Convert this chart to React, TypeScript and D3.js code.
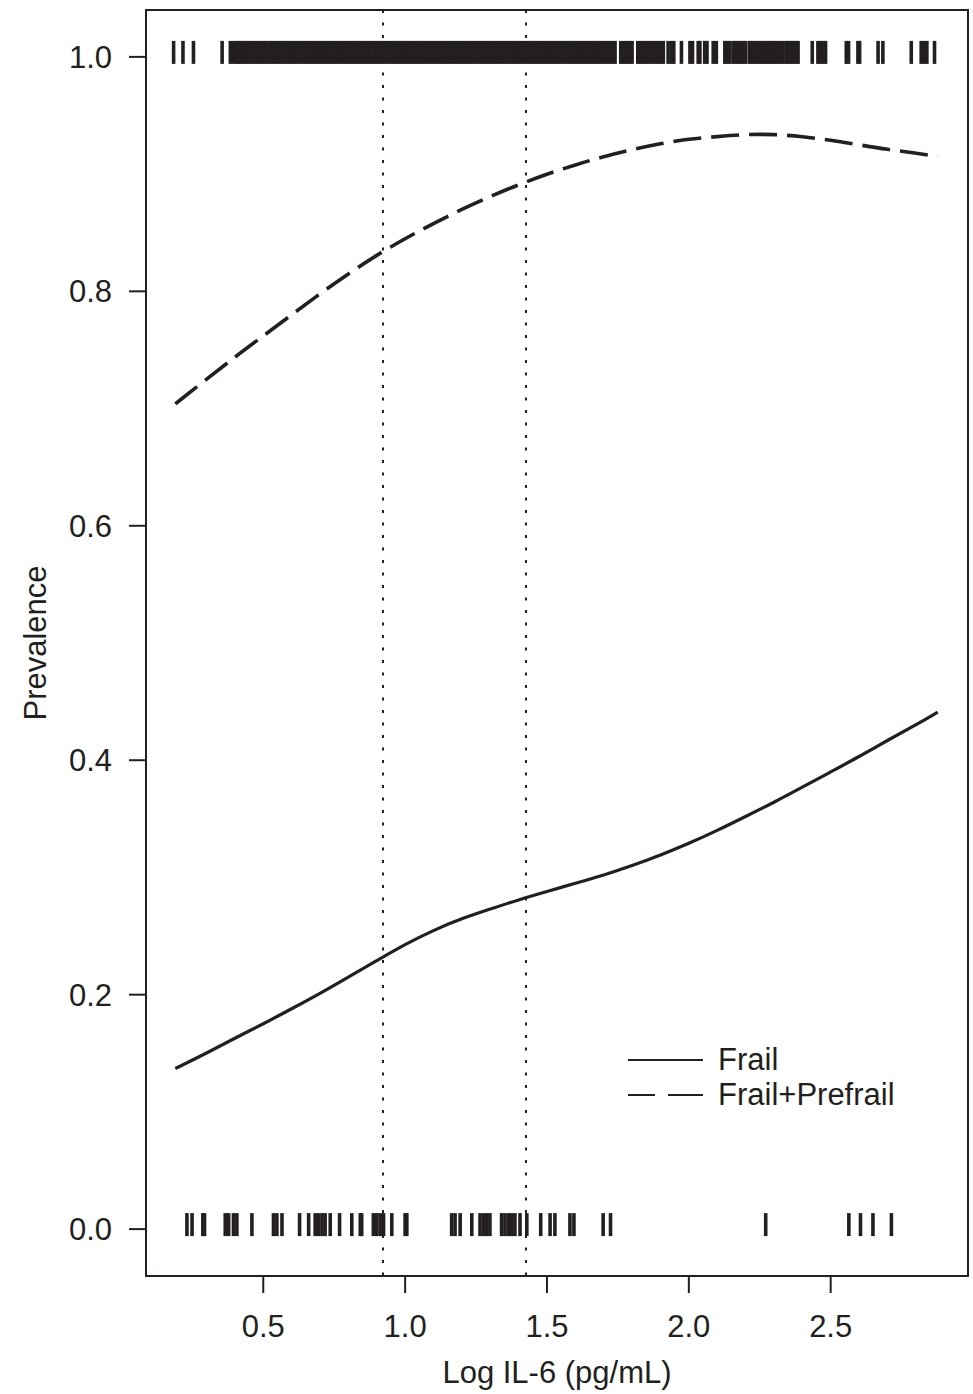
import * as d3 from "d3";

// figure size and plot box (R-style box with 4% padding on both axes)
const W = 973;
const H = 1394;
const box = { left: 146, right: 968, top: 10, bottom: 1276 };

const xTicks = [0.5, 1.0, 1.5, 2.0, 2.5];
const yTicks = [0.0, 0.2, 0.4, 0.6, 0.8, 1.0];
const cutPoints = [0.922, 1.426];

// fitted curves
const il6Grid = [0.19, 0.3, 0.4, 0.5, 0.6, 0.7, 0.8, 0.9, 1.0, 1.1, 1.2, 1.3, 1.4, 1.5,
  1.6, 1.7, 1.8, 1.9, 2.0, 2.1, 2.2, 2.3, 2.4, 2.5, 2.6, 2.7, 2.8, 2.877];
const frail = [0.137, 0.150, 0.163, 0.175, 0.188, 0.201, 0.215, 0.229, 0.243, 0.255,
  0.265, 0.273, 0.281, 0.288, 0.295, 0.302, 0.310, 0.319, 0.329, 0.340, 0.352, 0.364,
  0.377, 0.390, 0.403, 0.417, 0.430, 0.441];
const frailPrefrail = [0.704, 0.725, 0.744, 0.762, 0.780, 0.798, 0.815, 0.831, 0.845,
  0.858, 0.870, 0.881, 0.891, 0.900, 0.908, 0.915, 0.921, 0.926, 0.930, 0.932, 0.934,
  0.934, 0.932, 0.929, 0.925, 0.921, 0.918, 0.915];

// rug of observations at y = 1
const rugTop = [
  0.184, 0.217, 0.254, 0.355, 0.384, 0.395, 0.405, 0.413, 0.421,
  0.43, 0.44, 0.45, 0.46, 0.47, 0.48, 0.49, 0.50, 0.51, 0.52,
  0.53, 0.54, 0.55, 0.56, 0.57, 0.58, 0.59, 0.60, 0.61, 0.62,
  0.63, 0.64, 0.65, 0.66, 0.67, 0.68, 0.69, 0.70, 0.71, 0.72,
  0.73, 0.74, 0.75, 0.76, 0.77, 0.78, 0.79, 0.80, 0.81, 0.82,
  0.83, 0.84, 0.85, 0.86, 0.87, 0.88, 0.89, 0.90, 0.91, 0.92,
  0.93, 0.94, 0.95, 0.96, 0.97, 0.98, 0.99, 1.00, 1.01, 1.02,
  1.03, 1.04, 1.05, 1.06, 1.07, 1.08, 1.09, 1.10, 1.11, 1.12,
  1.13, 1.14, 1.15, 1.16, 1.17, 1.18, 1.19, 1.20, 1.21, 1.22,
  1.23, 1.24, 1.25, 1.26, 1.27, 1.28, 1.29, 1.30, 1.31, 1.32,
  1.33, 1.34, 1.35, 1.36, 1.37, 1.38, 1.39, 1.40, 1.41, 1.42,
  1.43, 1.44, 1.45, 1.46, 1.47, 1.48, 1.49, 1.50, 1.51, 1.52,
  1.53, 1.54, 1.55, 1.56, 1.57, 1.58, 1.59, 1.60, 1.61, 1.62,
  1.63, 1.64, 1.65, 1.66, 1.67, 1.68, 1.69, 1.70, 1.71, 1.72,
  1.73, 1.74, 1.76, 1.77, 1.78, 1.79, 1.80, 1.82, 1.83, 1.84,
  1.85, 1.86, 1.87, 1.88, 1.89, 1.90, 1.91,
  1.927, 1.939, 1.947, 1.974, 2.004, 2.013, 2.033, 2.039, 2.056, 2.064,
  2.086, 2.097, 2.127, 2.135, 2.144, 2.156, 2.165, 2.174, 2.182, 2.191,
  2.201, 2.215, 2.224, 2.232, 2.240, 2.250, 2.259, 2.268, 2.276, 2.285,
  2.295, 2.303, 2.311, 2.320, 2.330, 2.342, 2.350, 2.358, 2.368, 2.377,
  2.385, 2.435, 2.455, 2.464, 2.473, 2.482, 2.555, 2.563, 2.596, 2.602,
  2.667, 2.684, 2.784, 2.819, 2.831, 2.839, 2.866,
];

// rug of observations at y = 0
const rugBottom = [
  0.231, 0.249, 0.287, 0.293, 0.366, 0.378, 0.395, 0.407, 0.460, 0.536,
  0.548, 0.566, 0.628, 0.660, 0.683, 0.695, 0.707, 0.718, 0.736, 0.769,
  0.812, 0.842, 0.847, 0.888, 0.900, 0.912, 0.924, 0.953, 1.000, 1.006,
  1.164, 1.176, 1.194, 1.235, 1.264, 1.276, 1.288, 1.299, 1.340, 1.352,
  1.364, 1.376, 1.387, 1.405, 1.429, 1.478, 1.511, 1.528, 1.581, 1.595,
  1.698, 1.724, 2.271, 2.564, 2.605, 2.649, 2.714,
];

const ink = "#231f20";
const font = "'Liberation Sans', Arial, Helvetica, sans-serif";
const fs = 31;

export default function App() {
  const x = d3.scaleLinear().domain([0.0867, 2.984]).range([box.left, box.right]);
  const y = d3.scaleLinear().domain([-0.04, 1.04]).range([box.bottom, box.top]);

  const line = d3.line<number>()
    .x((_, i) => x(il6Grid[i]))
    .y(d => y(d))
    .curve(d3.curveBasis);

  const fmt = d3.format(".1f");

  const rug = (vals: number[], level: number, key: string) =>
    vals.map((v, i) => (
      <line key={key + i} x1={x(v)} x2={x(v)} y1={y(level) - 16} y2={y(level) + 7}
        stroke={ink} strokeWidth={3.6} />
    ));

  return (
    <svg width={W} height={H} style={{ position: "absolute", left: 0, top: 0, background: "#fff" }}
      fontFamily={font} fontSize={fs} fill={ink}>
      {/* cut points */}
      {cutPoints.map((c, i) => (
        <line key={"cut" + i} x1={x(c)} x2={x(c)} y1={box.top} y2={box.bottom}
          stroke={ink} strokeWidth={2} strokeDasharray="3 9.5" />
      ))}

      {rug(rugTop, 1, "t")}
      {rug(rugBottom, 0, "b")}

      <path d={line(frail) ?? ""} fill="none" stroke={ink} strokeWidth={3.2} />
      <path d={line(frailPrefrail) ?? ""} fill="none" stroke={ink} strokeWidth={3.6}
        strokeDasharray="28 10" />

      {/* box */}
      <rect x={box.left} y={box.top} width={box.right - box.left} height={box.bottom - box.top}
        fill="none" stroke={ink} strokeWidth={2} />

      {/* y axis */}
      {yTicks.map(t => (
        <g key={"y" + t}>
          <line x1={box.left - 17} x2={box.left} y1={y(t)} y2={y(t)} stroke={ink} strokeWidth={2} />
          <text x={112} y={y(t) + 11} textAnchor="end">{fmt(t)}</text>
        </g>
      ))}
      <text transform={`translate(46, ${(box.top + box.bottom) / 2}) rotate(-90)`} textAnchor="middle">
        Prevalence
      </text>

      {/* x axis */}
      {xTicks.map(t => (
        <g key={"x" + t}>
          <line x1={x(t)} x2={x(t)} y1={box.bottom} y2={box.bottom + 17} stroke={ink} strokeWidth={2} />
          <text x={x(t)} y={1337} textAnchor="middle">{fmt(t)}</text>
        </g>
      ))}
      <text x={(box.left + box.right) / 2} y={1383} textAnchor="middle">Log IL-6 (pg/mL)</text>

      {/* legend */}
      <line x1={628} x2={703} y1={1060} y2={1060} stroke={ink} strokeWidth={2.2} />
      <text x={718} y={1070}>Frail</text>
      <line x1={628} x2={703} y1={1095} y2={1095} stroke={ink} strokeWidth={2.2}
        strokeDasharray="27 13 35 13" />
      <text x={718} y={1105}>Frail+Prefrail</text>
    </svg>
  );
}
